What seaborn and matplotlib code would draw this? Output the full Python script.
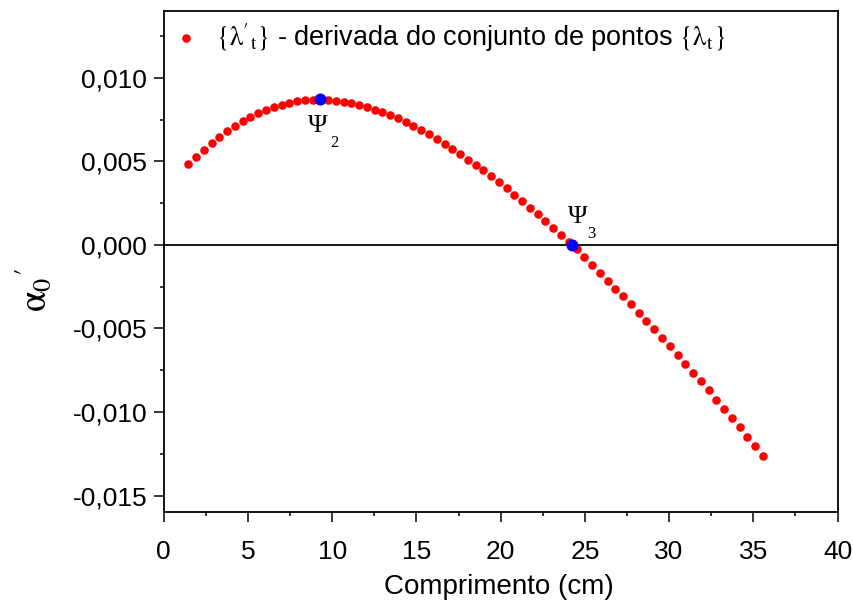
import numpy as np
import pandas as pd
import seaborn as sns
import matplotlib
matplotlib.use("Agg")
import matplotlib.pyplot as plt
from matplotlib.ticker import MultipleLocator, FuncFormatter

# Comprimento (cm) of each sample of the derivative set
comprimento = [
    1.46, 1.92, 2.38, 2.84, 3.30, 3.76, 4.22, 4.68, 5.14, 5.60,
    6.07, 6.53, 6.99, 7.45, 7.91, 8.37, 8.83, 9.29, 9.75, 10.21,
    10.68, 11.14, 11.60, 12.06, 12.52, 12.98, 13.44, 13.90, 14.36, 14.82,
    15.29, 15.75, 16.21, 16.67, 17.13, 17.59, 18.05, 18.51, 18.97, 19.43,
    19.90, 20.36, 20.82, 21.28, 21.74, 22.20, 22.66, 23.12, 23.58, 24.04,
    24.51, 24.97, 25.43, 25.89, 26.35, 26.81, 27.27, 27.73, 28.19, 28.65,
    29.12, 29.58, 30.04, 30.50, 30.96, 31.42, 31.88, 32.34, 32.80, 33.26,
    33.73, 34.19, 34.65, 35.11, 35.57,
]

# alpha_0' : derivative of the {lambda_t} set
alpha0_deriv = [
    0.00486, 0.00529, 0.00571, 0.00611, 0.00648, 0.00682, 0.00713, 0.00742, 0.00767, 0.00789,
    0.00809, 0.00826, 0.00840, 0.00852, 0.00861, 0.00867, 0.00870, 0.00871, 0.00869, 0.00864,
    0.00857, 0.00847, 0.00836, 0.00823, 0.00809, 0.00794, 0.00776, 0.00758, 0.00736, 0.00712,
    0.00686, 0.00661, 0.00633, 0.00604, 0.00575, 0.00543, 0.00511, 0.00479, 0.00446, 0.00410,
    0.00376, 0.00338, 0.00300, 0.00263, 0.00223, 0.00185, 0.00145, 0.00103, 0.00061, 0.00019,
    -0.00026, -0.00073, -0.00118, -0.00165, -0.00213, -0.00261, -0.00308, -0.00356, -0.00406, -0.00455,
    -0.00505, -0.00555, -0.00607, -0.00658, -0.00710, -0.00764, -0.00817, -0.00871, -0.00925, -0.00980,
    -0.01034, -0.01090, -0.01147, -0.01205, -0.01263,
]

# Characteristic points: maximum (Psi_2) and zero crossing (Psi_3)
psi_names = ["2", "3"]
psi_x = [9.29, 24.24]
psi_y = [0.00871, 0.0]

x_ticks = [0, 5, 10, 15, 20, 25, 30, 35, 40]
y_ticks = [-0.015, -0.010, -0.005, 0.000, 0.005, 0.010]

legend_label = (r"$\{\mathrm{\lambda}'_{\mathrm{t}}\}$ - derivada do conjunto de pontos "
                r"$\{\mathrm{\lambda}_{\mathrm{t}}\}$")

sns.set_theme(style="ticks")
plt.rcParams["font.family"] = ["Liberation Sans", "DejaVu Sans"]
plt.rcParams["mathtext.fontset"] = "stix"
for key in ("text.color", "axes.labelcolor", "xtick.color", "ytick.color", "axes.edgecolor"):
    plt.rcParams[key] = "black"
plt.rcParams["axes.linewidth"] = 1.3

df = pd.DataFrame({"x": comprimento, "y": alpha0_deriv})
dpsi = pd.DataFrame({"x": psi_x, "y": psi_y, "name": psi_names})

fig = plt.figure(figsize=(8.54, 6.01), dpi=100)
ax = fig.add_axes([0.1918, 0.1476, 0.7889, 0.8341])

ax.axhline(0.0, color="black", lw=1.3, zorder=1)

sns.scatterplot(data=df, x="x", y="y", ax=ax, color="#ff0000", s=38,
                linewidth=0, label=legend_label, zorder=3)
sns.scatterplot(data=dpsi, x="x", y="y", ax=ax, color="#0000ff", s=75,
                linewidth=0, legend=False, zorder=4)

# Psi labels next to their points
offsets = {"2": ((-1.5, -19.5), (10.5, -31.5)), "3": ((3.8, 20.0), (14.0, 7.8))}
for _, r in dpsi.iterrows():
    (psi_off, sub_off) = offsets[r["name"]]
    ax.annotate("Ψ", xy=(r["x"], r["y"]), xytext=psi_off, textcoords="offset points",
                ha="center", va="center", fontsize=19, family="Liberation Serif", zorder=5)
    ax.annotate(r["name"], xy=(r["x"], r["y"]), xytext=sub_off, textcoords="offset points",
                ha="center", va="center", fontsize=12, family="Liberation Serif", zorder=5)

ax.set_xlim(0, 40)
ax.set_ylim(-0.016, 0.014)
ax.set_xticks(x_ticks)
ax.set_yticks(y_ticks)
ax.xaxis.set_minor_locator(MultipleLocator(2.5))
ax.yaxis.set_minor_locator(MultipleLocator(0.0025))
ax.yaxis.set_major_formatter(FuncFormatter(lambda v, p: f"{v:.3f}".replace(".", ",").replace("-0,000", "0,000")))
ax.xaxis.set_major_formatter(FuncFormatter(lambda v, p: f"{v:g}"))

ax.tick_params(axis="both", which="major", direction="out", length=7, width=1.1,
               labelsize=19, colors="black")
ax.tick_params(axis="both", which="minor", direction="out", length=3, width=1.1)
ax.tick_params(axis="x", which="major", pad=13)
ax.tick_params(axis="y", which="major", pad=5)
for s in ax.spines.values():
    s.set_visible(True)
    s.set_color("black")
    s.set_linewidth(1.3)

ax.set_xlabel("Comprimento (cm)", fontsize=20, color="black")
ax.xaxis.set_label_coords(0.4976, -0.124)
ax.set_ylabel("")
fig.text(33.5 / 854, 1 - 290 / 601, r"$\mathrm{\alpha}_{0}{}^{\prime}$", rotation=90,
         ha="center", va="center", fontsize=27, color="black")

ax.legend(loc="center left", bbox_to_anchor=(0.0129, 0.948), frameon=False,
          borderpad=0, borderaxespad=0, handlelength=1.0, handletextpad=0.62,
          fontsize=19.5, markerscale=1.0, labelcolor="black")

fig.savefig("out.png", dpi=100)
